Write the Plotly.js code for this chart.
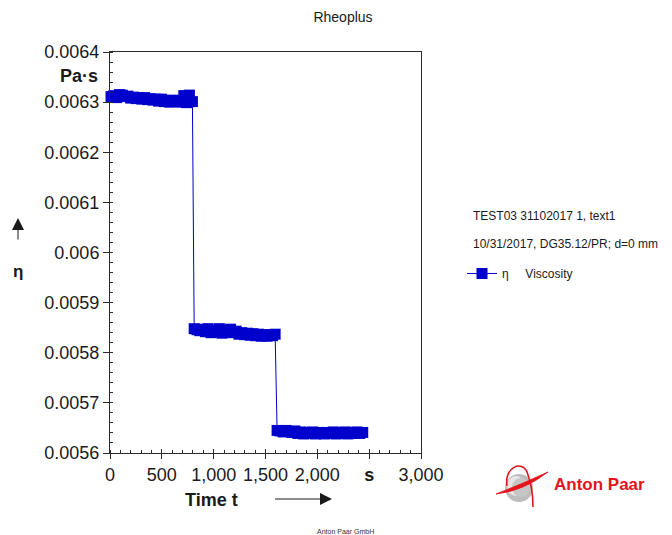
<!DOCTYPE html>
<html>
<head>
<meta charset="utf-8">
<script src="https://cdn.plot.ly/plotly-3.0.1.min.js"></script>
<style>
  html, body { margin: 0; padding: 0; background: #ffffff; }
  #chart { width: 672px; height: 535px; }
</style>
</head>
<body>
<div id="chart"></div>
<script>
// Viscosity step test: time [s] vs. viscosity eta [Pa·s]
const timeS = [
  10, 37, 64, 91, 118, 145, 172, 199, 226, 253, 280, 307, 334, 361, 388,
  415, 442, 469, 496, 523, 550, 577, 604, 631, 658, 685, 712, 739, 766, 795,
  812, 839, 866, 893, 920, 947, 974, 1001, 1028, 1055, 1082, 1109, 1136, 1163, 1190,
  1217, 1244, 1271, 1298, 1325, 1352, 1379, 1406, 1433, 1460, 1487, 1514, 1541, 1568, 1593,
  1612, 1641, 1669, 1698, 1726, 1755, 1783, 1812, 1840, 1869, 1897, 1926, 1954, 1983, 2011,
  2040, 2068, 2097, 2125, 2154, 2182, 2211, 2239, 2268, 2296, 2325, 2353, 2382, 2410, 2438
];
const viscosity = [
  0.006311, 0.006313, 0.006309, 0.006315, 0.006314, 0.006311, 0.006312, 0.006308, 0.006310, 0.006307,
  0.006309, 0.006306, 0.006309, 0.006305, 0.006307, 0.006304, 0.006306, 0.006302, 0.006306, 0.006301,
  0.006304, 0.006300, 0.006303, 0.006301, 0.006304, 0.006300, 0.006313, 0.006299, 0.006314, 0.006301,
  0.005848, 0.005846, 0.005844, 0.005847, 0.005842, 0.005848, 0.005840, 0.005845, 0.005841, 0.005848,
  0.005839, 0.005845, 0.005841, 0.005847, 0.005840, 0.005843, 0.005837, 0.005840, 0.005836, 0.005839,
  0.005835, 0.005838, 0.005834, 0.005837, 0.005833, 0.005836, 0.005833, 0.005836, 0.005834, 0.005837,
  0.005645, 0.005644, 0.005642, 0.005645, 0.005643, 0.005641, 0.005644, 0.005639, 0.005642, 0.005638,
  0.005641, 0.005639, 0.005642, 0.005638, 0.005641, 0.005639, 0.005638, 0.005641, 0.005639, 0.005642,
  0.005638, 0.005641, 0.005639, 0.005642, 0.005638, 0.005641, 0.005639, 0.005642, 0.005639, 0.005641
];

const xTickVals = [0, 500, 1000, 1500, 2000, 2500, 3000];
const xTickText = ['0', '500', '1,000', '1,500', '2,000', '<b>s</b>', '3,000'];
const yTickVals = [0.0056, 0.0057, 0.0058, 0.0059, 0.006, 0.0061, 0.0062, 0.0063, 0.0064];
const yTickText = ['0.0056', '0.0057', '0.0058', '0.0059', '0.006', '0.0061', '0.0062', '0.0063', '0.0064'];

const seriesName = 'η\u00a0\u00a0\u00a0\u00a0\u00a0Viscosity';
const headerLines = ['TEST03 31102017 1, text1', '10/31/2017, DG35.12/PR; d=0 mm'];

const FONT = 'Arial, "Liberation Sans", sans-serif';
const BLUE = '#0000cc';
const RED = '#e3141c';
const AXIS = '#2b2b2b';

// plot area in page pixels, used to place the decorations
const PL = 110, PR = 421, PT = 52, PB = 453;
const px = x => (x - PL) / (PR - PL);
const py = y => (PB - y) / (PB - PT);
const path = pts => pts.map(p => (typeof p === 'string') ? p : (px(p[0]).toFixed(5) + ',' + py(p[1]).toFixed(5))).join(' ');

const traces = [
  {
    x: timeS,
    y: viscosity,
    type: 'scatter',
    mode: 'lines+markers',
    name: seriesName,
    line: { color: BLUE, width: 1 },
    marker: { symbol: 'square', size: 11, color: BLUE, line: { width: 0 } },
    cliponaxis: false
  },
  // empty companion trace so the inner tick axis is drawn
  { x: [], y: [], xaxis: 'x2', yaxis: 'y', showlegend: false, hoverinfo: 'skip' }
];

const tickFont = { family: FONT, size: 18, color: '#1a1a1a' };

const layout = {
  width: 672,
  height: 535,
  margin: { l: PL, r: 672 - PR, t: PT, b: 535 - PB, pad: 0 },
  paper_bgcolor: '#ffffff',
  plot_bgcolor: '#ffffff',
  showlegend: true,
  font: { family: FONT, color: '#1a1a1a' },
  title: {
    text: 'Rheoplus',
    font: { family: FONT, size: 14, color: '#1a1a1a' },
    x: 343 / 672, xanchor: 'center',
    y: 1 - 17 / 535, yanchor: 'middle', yref: 'container'
  },
  xaxis: {
    range: [0, 3000],
    tickmode: 'array', tickvals: xTickVals, ticktext: xTickText,
    ticks: 'outside', ticklen: 5, tickwidth: 1, tickcolor: AXIS,
    minor: { dtick: 100, tick0: 0, ticks: 'inside', ticklen: 3, tickcolor: AXIS },
    showline: true, linecolor: AXIS, linewidth: 1, mirror: true,
    showgrid: false, zeroline: false,
    tickfont: tickFont,
    fixedrange: true
  },
  xaxis2: {
    overlaying: 'x', anchor: 'y', side: 'bottom',
    range: [0, 3000],
    tickmode: 'array', tickvals: xTickVals,
    ticks: 'inside', ticklen: 4, tickwidth: 1, tickcolor: AXIS,
    showticklabels: false, showline: false, showgrid: false, zeroline: false,
    fixedrange: true
  },
  yaxis: {
    range: [0.0056, 0.0064],
    tickmode: 'array', tickvals: yTickVals, ticktext: yTickText,
    ticks: 'outside', ticklen: 6, tickwidth: 1, tickcolor: AXIS,
    minor: { dtick: 0.00002, tick0: 0.0056, ticks: 'inside', ticklen: 3, tickcolor: AXIS },
    showline: true, linecolor: AXIS, linewidth: 1, mirror: true,
    showgrid: false, zeroline: false,
    tickfont: tickFont,
    fixedrange: true
  },
  legend: {
    x: px(462), xanchor: 'left',
    y: py(259), yanchor: 'top',
    bgcolor: 'rgba(0,0,0,0)', borderwidth: 0,
    font: { family: FONT, size: 12, color: '#1a1a1a' },
    itemwidth: 30
  },
  annotations: [
    { text: headerLines[0], xref: 'paper', yref: 'paper', x: px(471), y: py(216),
      xanchor: 'left', yanchor: 'middle', showarrow: false,
      font: { family: FONT, size: 12, color: '#1a1a1a' } },
    { text: headerLines[1], xref: 'paper', yref: 'paper', x: px(471), y: py(244),
      xanchor: 'left', yanchor: 'middle', showarrow: false,
      font: { family: FONT, size: 12, color: '#1a1a1a' } },
    // y axis unit and symbol
    { text: '<b>Pa·s</b>', xref: 'paper', yref: 'paper', x: px(100), y: py(76),
      xanchor: 'right', yanchor: 'middle', showarrow: false,
      font: { family: FONT, size: 18, color: '#1a1a1a' } },
    { text: '<b>η</b>', xref: 'paper', yref: 'paper', x: px(18), y: py(271),
      xanchor: 'center', yanchor: 'middle', showarrow: false,
      font: { family: FONT, size: 17, color: '#1a1a1a' } },
    { text: ' ', xref: 'paper', yref: 'paper', x: px(18), y: py(218),
      ax: 0, ay: 30, showarrow: true, arrowhead: 2, arrowsize: 2.4, arrowwidth: 1,
      arrowcolor: '#1a1a1a', standoff: 0, startstandoff: 0 },
    // x axis title and arrow
    { text: '<b>Time t</b>', xref: 'paper', yref: 'paper', x: px(211), y: py(500),
      xanchor: 'center', yanchor: 'middle', showarrow: false,
      font: { family: FONT, size: 18, color: '#1a1a1a' } },
    { text: ' ', xref: 'paper', yref: 'paper', x: px(332), y: py(499),
      ax: -60, ay: 0, showarrow: true, arrowhead: 2, arrowsize: 2.4, arrowwidth: 1,
      arrowcolor: '#1a1a1a', standoff: 0, startstandoff: 0 },
    // company mark
    { text: '<b>Anton Paar</b>', xref: 'paper', yref: 'paper', x: px(552), y: py(484),
      xanchor: 'left', yanchor: 'middle', showarrow: false,
      font: { family: FONT, size: 17, color: RED } },
    { text: 'Anton Paar GmbH', xref: 'paper', yref: 'paper', x: px(345), y: py(531),
      xanchor: 'center', yanchor: 'middle', showarrow: false,
      font: { family: FONT, size: 7, color: '#333333' } }
  ],
  shapes: [
    // grey sphere of the logo
    { type: 'circle', xref: 'paper', yref: 'paper', layer: 'above',
      x0: px(505), x1: px(533), y0: py(502), y1: py(474),
      fillcolor: '#bdbdbd', line: { width: 0 } },
    { type: 'circle', xref: 'paper', yref: 'paper', layer: 'above',
      x0: px(507), x1: px(525), y0: py(496), y1: py(476),
      fillcolor: '#e6e6e6', line: { width: 0 } },
    { type: 'circle', xref: 'paper', yref: 'paper', layer: 'above',
      x0: px(512), x1: px(530), y0: py(497), y1: py(478),
      fillcolor: '#c6c6c6', line: { width: 0 } },
    // red orbit arc
    { type: 'path', xref: 'paper', yref: 'paper', layer: 'above',
      path: path(['M', [507, 486], 'C', [504, 467], [522, 460], [527, 472], 'C', [531, 482], [533, 495], [533, 507]]),
      line: { color: RED, width: 1.6 } },
    // red swoosh
    { type: 'path', xref: 'paper', yref: 'paper', layer: 'above',
      path: path(['M', [496, 494], 'Q', [522, 484], [548, 472], 'Q', [524, 491], [496, 494], 'Z']),
      fillcolor: RED, line: { color: RED, width: 0.8 } }
  ]
};

Plotly.newPlot('chart', traces, layout, { displayModeBar: false, staticPlot: true, responsive: false });
</script>
</body>
</html>
